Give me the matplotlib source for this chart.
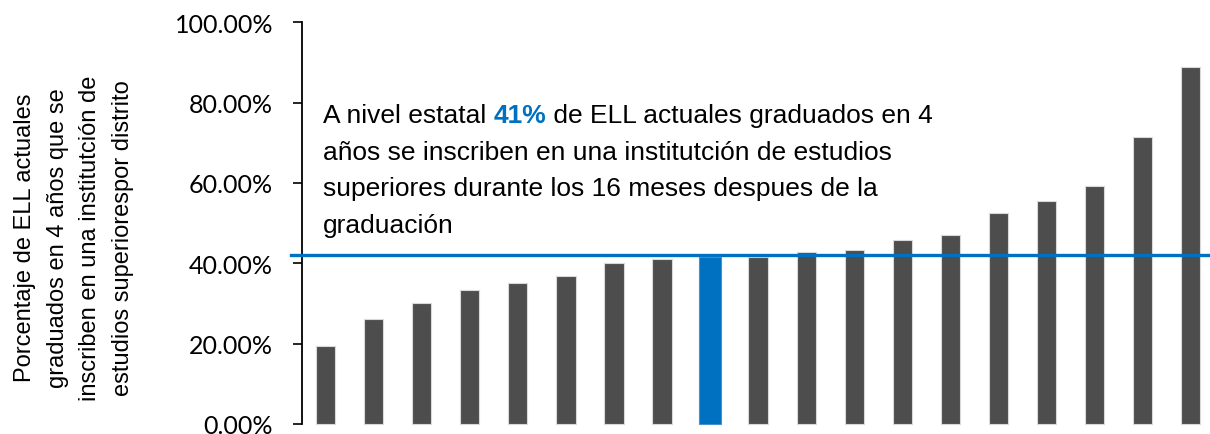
import matplotlib.pyplot as plt
from matplotlib.ticker import FuncFormatter
from matplotlib import font_manager

# data (percent)
districts = list(range(1, 20))
values = [19.3, 26.1, 30.1, 33.4, 35.2, 36.8, 40.0, 41.0, 41.5, 41.5,
          42.8, 43.4, 45.7, 47.0, 52.6, 55.5, 59.3, 71.4, 88.9]
state_index = 8          # the state bar, drawn in blue
state_line = 42.1
yticks = [0, 20, 40, 60, 80, 100]

ylabel = ("Porcentaje de ELL actuales\n"
          "graduados en 4 años que se\n"
          "inscriben en una institutción de\n"
          "estudios superiorespor distrito")
note_before = "A nivel estatal "
note_value = "41%"
note_after = " de ELL actuales graduados en 4"
note_rest = ["años se inscriben en una institutción de estudios",
             "superiores durante los 16 meses despues de la",
             "graduación"]

BLUE = "#0070c0"
GRAY = "#4d4d4d"

names = {f.name for f in font_manager.fontManager.ttflist}
narrow = "Liberation Sans Narrow" if "Liberation Sans Narrow" in names else "Liberation Sans"
tickfont = "Lato" if "Lato" in names else "DejaVu Sans"

W, H = 1210, 435
fig = plt.figure(figsize=(W / 100, H / 100), dpi=100)
left, right = 301.7 / W, 1214.5 / W
bottom, top = (H - 425) / H, (H - 23.3) / H
ax = fig.add_axes([left, bottom, right - left, top - bottom])

x = list(range(len(values)))
colors = [BLUE if i == state_index else GRAY for i in x]
edges = ["#4a90d0" if i == state_index else "#d9d9d9" for i in x]
widths = [0.44 if i == state_index else 0.4 for i in x]
ax.bar(x, values, width=widths, color=colors, edgecolor=edges, linewidth=0.8,
       zorder=2, clip_on=False)
ax.axhline(state_line, xmin=-0.012, xmax=1, color=BLUE, linewidth=2.4,
           zorder=3, clip_on=False)

ax.set_xlim(-0.5, len(values) - 0.5)
ax.set_ylim(0, 100)
ax.set_yticks(yticks)
ax.yaxis.set_major_formatter(FuncFormatter(lambda v, p: "%.2f%%" % v))
ax.tick_params(axis="y", direction="out", length=6.5, width=1.2, pad=14,
               labelsize=18, colors="black")
for lab in ax.get_yticklabels():
    lab.set_family(tickfont)
ax.set_xticks([])
for s in ["top", "right", "bottom"]:
    ax.spines[s].set_visible(False)
ax.spines["left"].set_linewidth(1.3)

fig.text(74 / W, 1 - 238 / H, ylabel, rotation=90, ha="center", va="center",
         multialignment="center", fontsize=17, family=narrow,
         linespacing=1.62)

# annotation, with the state value in bold blue
fs = 19
tx, ty = 323 / W, 1 - 123 / H
t1 = fig.text(tx, ty, note_before, fontsize=fs, family=narrow, va="baseline")
fig.canvas.draw()
r = fig.canvas.get_renderer()
bb = t1.get_window_extent(r)
t2 = fig.text(bb.x1 / W, ty, note_value, fontsize=fs, family=narrow,
              fontweight="bold", color=BLUE, va="baseline")
bb2 = t2.get_window_extent(r)
fig.text(bb2.x1 / W, ty, note_after, fontsize=fs, family=narrow, va="baseline")
for k, line in enumerate(note_rest):
    fig.text(tx, 1 - (159.5 + 37 * k) / H, line, fontsize=fs, family=narrow,
             va="baseline")

fig.savefig("out.png", dpi=100)
